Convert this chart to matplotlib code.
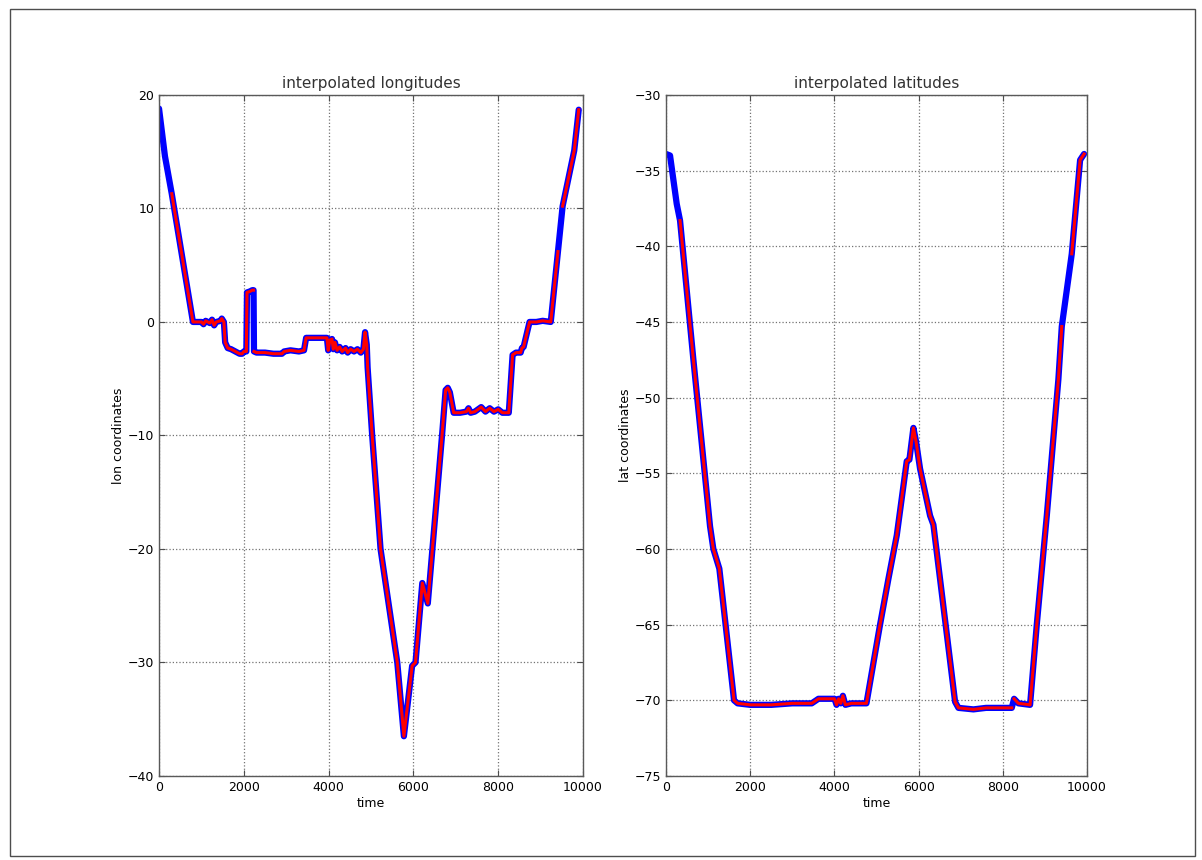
import numpy as np
import matplotlib
matplotlib.use("Agg")
import matplotlib.pyplot as plt
from matplotlib.patches import Rectangle

# Longitude track: time step vs. longitude (degrees)
lon_time = [0, 140, 300, 800, 1000, 1050, 1100, 1200, 1250, 1300, 1350, 1450,
            1480, 1530, 1560, 1620, 1700, 1800, 1900, 1960, 2000, 2060, 2075,
            2150, 2200, 2230, 2240, 2300, 2500, 2700, 2900, 2950, 3100, 3300,
            3420, 3470, 3700, 3960, 3990, 4030, 4080, 4110, 4150, 4200, 4260,
            4320, 4400, 4450, 4520, 4600, 4680, 4760, 4820, 4860, 4900, 4920,
            5028, 5225, 5620, 5776, 5970, 6050, 6210, 6340, 6680, 6760, 6810,
            6860, 6950, 7100, 7250, 7300, 7350, 7450, 7600, 7700, 7800, 7900,
            8000, 8100, 8250, 8340, 8420, 8530, 8560, 8600, 8740, 8900, 9050,
            9240, 9410, 9520, 9794, 9900]
lon_value = [18.8, 14.6, 11.3, 0.0, 0.0, -0.2, 0.1, -0.1, 0.2, -0.3, 0.0, 0.1,
             0.3, 0.0, -1.8, -2.3, -2.4, -2.6, -2.8, -2.8, -2.6, -2.6, 2.6,
             2.7, 2.8, 2.8, -2.6, -2.7, -2.7, -2.8, -2.8, -2.6, -2.5, -2.6,
             -2.5, -1.4, -1.4, -1.4, -2.5, -1.6, -1.5, -2.4, -1.8, -2.5, -2.2,
             -2.6, -2.3, -2.7, -2.4, -2.6, -2.4, -2.7, -2.4, -0.9, -2.0, -4.0,
             -10.0, -20.0, -30.0, -36.5, -30.3, -30.0, -23.0, -24.8, -9.8, -6.0, -5.8,
             -6.2, -8.0, -8.0, -7.9, -7.6, -8.0, -7.9, -7.5, -7.9, -7.6, -7.9,
             -7.7, -8.0, -8.0, -2.9, -2.7, -2.7, -2.3, -2.2, 0.0, 0.0, 0.1,
             0.0, 6.2, 10.2, 15.1, 18.7]
# stretches (start, end) where the raw longitude record has no samples
lon_raw_gaps = [(0, 140), (140, 300), (2230, 2240), (9410, 9520)]

# Latitude track: time step vs. latitude (degrees)
lat_time = [0, 95, 254, 333, 650, 1045, 1124, 1266, 1615, 1700, 2000, 2500,
            3000, 3460, 3620, 4000, 4050, 4100, 4150, 4200, 4260, 4400, 4760,
            5083, 5280, 5480, 5717, 5780, 5875, 5938, 6033, 6271, 6350, 6865,
            6944, 7300, 7600, 8000, 8211, 8266, 8369, 8646, 8805, 9043, 9318,
            9399, 9636, 9834, 9929]
lat_value = [-33.9, -34.0, -37.2, -38.3, -47.5, -58.5, -60.0, -61.3, -70.0, -70.2,
             -70.3, -70.3, -70.2, -70.2, -69.9, -69.9, -70.3, -69.9, -70.2, -69.7,
             -70.3, -70.2, -70.2, -65.0, -62.0, -59.1, -54.2, -54.1, -52.0, -52.9,
             -54.7, -57.8, -58.4, -70.1, -70.5, -70.6, -70.5, -70.5, -70.5, -69.9,
             -70.2, -70.3, -65.0, -57.8, -48.8, -45.3, -40.5, -34.3, -33.9]
lat_raw_gaps = [(0, 95), (95, 254), (254, 333), (8211, 8266), (9399, 9636)]

time_ticks = [0, 2000, 4000, 6000, 8000, 10000]
lon_ticks = [-40, -30, -20, -10, 0, 10, 20]
lat_ticks = [-75, -70, -65, -60, -55, -50, -45, -40, -35, -30]


def break_at(t, y, gaps):
    """Insert NaN between consecutive samples that bound a gap."""
    tt, yy = [], []
    for i in range(len(t)):
        tt.append(t[i])
        yy.append(y[i])
        if i + 1 < len(t) and (t[i], t[i + 1]) in gaps:
            tt.append(np.nan)
            yy.append(np.nan)
    return np.array(tt, dtype=float), np.array(yy, dtype=float)


fig = plt.figure(figsize=(12.02, 8.6), dpi=100)
fig.patch.set_facecolor("white")

ax1 = fig.add_axes([0.1323, 0.0977, 0.3527, 0.7919])
ax2 = fig.add_axes([0.5541, 0.0977, 0.3503, 0.7919])

panels = [
    (ax1, lon_time, lon_value, lon_raw_gaps, "interpolated longitudes",
     "lon coordinates", (-40, 20), lon_ticks),
    (ax2, lat_time, lat_value, lat_raw_gaps, "interpolated latitudes",
     "lat coordinates", (-75, -30), lat_ticks),
]

for ax, t, v, gaps, title, ylabel, ylim, yticks in panels:
    ax.plot(t, v, color="blue", linewidth=4.5, solid_capstyle="round",
            solid_joinstyle="round")
    rt, rv = break_at(t, v, gaps)
    ax.plot(rt, rv, color="red", linewidth=2.2, solid_joinstyle="round")
    ax.set_xlim(0, 10000)
    ax.set_ylim(*ylim)
    ax.set_xticks(time_ticks)
    ax.set_yticks(yticks)
    ax.grid(True, linestyle=":", color="0.45", linewidth=0.9)
    ax.tick_params(direction="in", top=True, right=True, length=4,
                   labelsize=9, color="0.3")
    for sp in ax.spines.values():
        sp.set_color("0.35")
        sp.set_linewidth(1.0)
    ax.set_title(title, fontsize=11, color="0.2", pad=5)
    ax.set_xlabel("time", fontsize=9, labelpad=2)
    ax.set_ylabel(ylabel, fontsize=9, labelpad=2)

# frame around the whole figure
fig.add_artist(Rectangle((10 / 1202, 4 / 860), 1185 / 1202, 847 / 860,
                         transform=fig.transFigure, fill=False,
                         edgecolor="0.3", linewidth=1.0))

fig.savefig("out.png", dpi=100)
